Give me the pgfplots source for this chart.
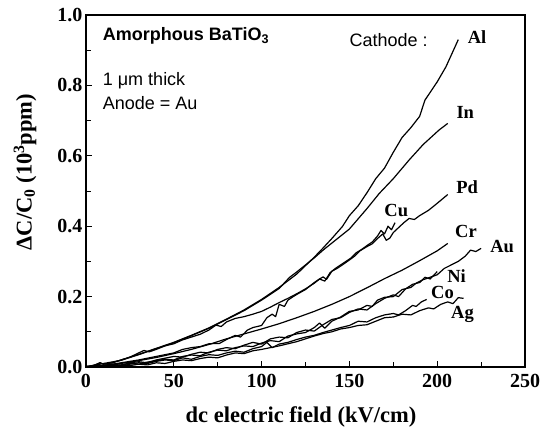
\documentclass[border=0pt]{standalone}
\usepackage{pgfplots}
\pgfplotsset{compat=1.18}
\usepackage{fontspec}
\setmainfont{Liberation Serif}
\newfontfamily\arial{Liberation Sans}
\tikzset{cur/.style={black, line width=1.2bp, line join=round, mark=none}}
\begin{document}
\begin{tikzpicture}
\path[use as bounding box] (-86bp,-62bp) rectangle (463bp,367bp);
\begin{axis}[
  at={(0,0)}, anchor=south west,
  scale only axis, width=439bp, height=352bp,
  xmin=0, xmax=250, ymin=0, ymax=1.0,
  xtick={0,50,...,250}, minor xtick={25,75,...,225},
  ytick={0,0.2,...,1.0}, minor ytick={0.1,0.3,...,0.9},
  tick pos=left, tick align=inside,
  major tick length=6bp, minor tick length=5bp,
  axis line style={line width=1.1bp},
  every tick/.style={line width=0.9bp, black},
  /pgf/number format/assume math mode=true,
  xticklabel style={font=\fontsize{20bp}{20bp}\selectfont\bfseries, yshift=-4bp},
  yticklabel style={font=\fontsize{20bp}{20bp}\selectfont\bfseries,
    /pgf/number format/.cd, fixed, fixed zerofill, precision=1},
  clip=false,
]
% Al
\addplot[cur] coordinates {(0,0) (5,0.006) (8,0.012) (10,0.008) (15,0.012) (20,0.02) (30,0.036) (40,0.053) (50,0.07) (60,0.09) (70,0.111) (80,0.136) (90,0.162) (100,0.192) (110,0.226) (120,0.264) (130,0.312) (135,0.338) (140,0.365) (146,0.399) (150,0.43) (155,0.458) (160,0.495) (165,0.535) (170,0.565) (175,0.61) (180,0.652) (185,0.68) (190,0.712) (193,0.758) (200,0.81) (205,0.853) (212,0.93)};
% In
\addplot[cur] coordinates {(0,0) (5,0.005) (10,0.01) (20,0.019) (30,0.035) (40,0.052) (50,0.069) (60,0.089) (70,0.11) (80,0.135) (90,0.16) (100,0.19) (110,0.223) (116,0.255) (120,0.27) (130,0.31) (135,0.332) (140,0.352) (150,0.392) (160,0.45) (167,0.493) (175,0.535) (184,0.588) (192,0.632) (201,0.673) (206,0.692)};
% Cu
\addplot[cur] coordinates {(0,0) (5,0.005) (8,0.012) (10,0.008) (15,0.012) (20,0.02) (25,0.028) (30,0.04) (33,0.047) (36,0.043) (40,0.05) (45,0.06) (50,0.066) (55,0.077) (60,0.085) (65,0.093) (70,0.105) (74,0.119) (77,0.115) (80,0.128) (85,0.138) (90,0.143) (95,0.15) (100,0.158) (105,0.17) (110,0.183) (115,0.195) (120,0.208) (125,0.222) (130,0.238) (133,0.25) (136,0.244) (139,0.268) (142,0.28) (145,0.29) (148,0.3) (151,0.31) (154,0.325) (157,0.334) (160,0.345) (163,0.355) (166,0.372) (168,0.388) (170,0.378) (172,0.4) (174,0.39) (176,0.41)};
% Pd
\addplot[cur] coordinates {(0,0) (10,0.004) (20,0.012) (30,0.02) (40,0.03) (50,0.04) (55,0.05) (60,0.055) (65,0.058) (70,0.066) (76,0.067) (80,0.078) (85,0.09) (88,0.085) (92,0.105) (95,0.112) (100,0.118) (103,0.14) (106,0.15) (108,0.143) (110,0.178) (113,0.172) (115,0.19) (118,0.2) (121,0.209) (125,0.22) (128,0.232) (130,0.24) (133,0.25) (135,0.256) (137,0.249) (140,0.272) (143,0.28) (146,0.29) (150,0.304) (153,0.315) (156,0.33) (160,0.342) (163,0.35) (166,0.365) (169,0.378) (171,0.36) (173,0.366) (175,0.382) (178,0.396) (181,0.41) (184,0.422) (187,0.419) (190,0.43) (195,0.445) (200,0.465) (206,0.49)};
% Cr
\addplot[cur] coordinates {(0,0) (10,0.004) (20,0.01) (30,0.018) (40,0.027) (50,0.038) (60,0.05) (70,0.064) (80,0.08) (90,0.094) (100,0.108) (110,0.123) (120,0.14) (130,0.158) (140,0.178) (150,0.2) (160,0.225) (170,0.251) (180,0.275) (190,0.302) (200,0.33) (206,0.351)};
% Au
\addplot[cur] coordinates {(0,0) (5,0.002) (10,0.0) (15,0.004) (20,0.006) (25,0.01) (30,0.008) (35,0.014) (40,0.018) (45,0.022) (50,0.02) (55,0.03) (60,0.034) (65,0.032) (70,0.042) (75,0.048) (80,0.046) (85,0.055) (90,0.06) (95,0.058) (100,0.068) (105,0.075) (110,0.072) (115,0.088) (120,0.094) (125,0.098) (130,0.112) (133,0.125) (136,0.11) (140,0.13) (145,0.142) (150,0.158) (155,0.162) (160,0.175) (163,0.172) (166,0.19) (170,0.198) (175,0.2) (180,0.22) (185,0.226) (188,0.238) (192,0.248) (196,0.255) (200,0.262) (204,0.28) (208,0.29) (212,0.3) (216,0.315) (219,0.332) (222,0.328) (225,0.337)};
% Ni
\addplot[cur] coordinates {(0,0.003) (5,0.0) (10,0.005) (15,0.008) (20,0.005) (25,0.012) (30,0.015) (35,0.012) (40,0.02) (45,0.025) (50,0.03) (55,0.028) (60,0.036) (65,0.042) (70,0.04) (75,0.05) (80,0.055) (85,0.052) (90,0.062) (95,0.07) (100,0.065) (105,0.08) (110,0.085) (115,0.083) (120,0.098) (125,0.105) (130,0.102) (135,0.12) (140,0.135) (145,0.14) (150,0.155) (155,0.165) (160,0.162) (165,0.18) (170,0.195) (175,0.205) (178,0.2) (182,0.222) (186,0.235) (190,0.24) (193,0.255) (196,0.25) (200,0.271)};
% Co
\addplot[cur] coordinates {(0,0) (5,0.004) (10,0.002) (15,0.006) (20,0.003) (25,0.008) (30,0.012) (35,0.01) (40,0.016) (45,0.02) (50,0.018) (55,0.026) (60,0.022) (65,0.03) (70,0.035) (75,0.033) (80,0.04) (85,0.045) (90,0.042) (95,0.052) (100,0.058) (103,0.07) (106,0.055) (110,0.065) (115,0.07) (120,0.078) (125,0.085) (130,0.09) (135,0.098) (140,0.105) (145,0.112) (150,0.118) (155,0.13) (160,0.128) (165,0.14) (170,0.148) (175,0.152) (178,0.148) (182,0.16) (186,0.175) (188,0.172) (191,0.185) (194,0.192)};
% Ag
\addplot[cur] coordinates {(0,0.002) (5,0.0) (10,0.004) (15,0.002) (20,0.005) (25,0.004) (30,0.008) (35,0.006) (40,0.012) (45,0.01) (50,0.016) (55,0.02) (60,0.018) (65,0.024) (70,0.028) (75,0.026) (80,0.034) (85,0.04) (90,0.038) (95,0.046) (100,0.05) (105,0.055) (110,0.06) (115,0.066) (120,0.072) (125,0.08) (130,0.088) (135,0.095) (140,0.1) (145,0.108) (150,0.112) (155,0.118) (160,0.12) (165,0.13) (170,0.14) (175,0.142) (180,0.15) (185,0.148) (190,0.16) (195,0.168) (198,0.165) (202,0.178) (206,0.185) (209,0.18) (212,0.197) (215,0.195)};
% curve labels
\begin{scope}[every node/.style={font=\fontsize{18.5bp}{18.5bp}\selectfont\bfseries, inner sep=0pt}]
\node at (axis cs:222.7,0.937) {Al};
\node at (axis cs:216,0.724) {In};
\node at (axis cs:217,0.511) {Pd};
\node at (axis cs:176.7,0.446) {Cu};
\node at (axis cs:216.4,0.384) {Cr};
\node at (axis cs:237,0.341) {Au};
\node at (axis cs:211,0.257) {Ni};
\node at (axis cs:203,0.211) {Co};
\node at (axis cs:214.4,0.148) {Ag};
\end{scope}
\begin{scope}[every node/.style={font=\arial\fontsize{18bp}{18bp}\selectfont, inner sep=0pt, anchor=base west}]
\node at (axis cs:9.5,0.928) {\bfseries Amorphous BaTiO\textsubscript{3}};
\node at (axis cs:9.5,0.80) {1 μm thick};
\node at (axis cs:9.5,0.732) {Anode = Au};
\node at (axis cs:150,0.91) {Cathode :};
\end{scope}
\end{axis}
\node[font=\fontsize{22.5bp}{22.5bp}\selectfont\bfseries] at (215bp,-50bp) {dc electric field (kV/cm)};
\node[rotate=90, font=\fontsize{22.5bp}{22.5bp}\selectfont\bfseries] at (-61bp,195bp) {ΔC/C\textsubscript{0} (10\textsuperscript{3}ppm)};
\end{tikzpicture}
\end{document}
